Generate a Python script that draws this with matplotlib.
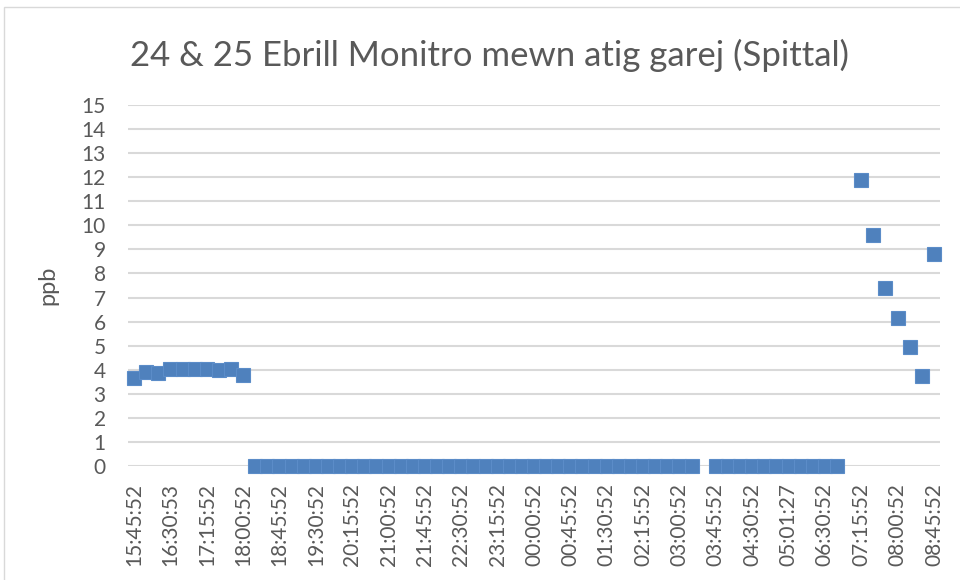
import numpy as np
import matplotlib
matplotlib.use('Agg')
import matplotlib.pyplot as plt
from matplotlib.patches import Rectangle

# Data, one value per 15-min reading, None = no reading
early_vals = [3.65, 3.9, 3.85, 4.05, 4.05, 4.05, 4.05, 4.0, 4.05, 3.8]
night_vals_a = [0.0] * 37
night_vals_b = [0.0] * 11
morning_vals = [11.9, 9.6, 7.4, 6.15, 4.95, 3.75, 8.8]
ppb = early_vals + night_vals_a + [None] + night_vals_b + [None] + morning_vals

tick_labels = ['15:45:52', '16:30:53', '17:15:52', '18:00:52', '18:45:52',
               '19:30:52', '20:15:52', '21:00:52', '21:45:52', '22:30:52',
               '23:15:52', '00:00:52', '00:45:52', '01:30:52', '02:15:52',
               '03:00:52', '03:45:52', '04:30:52', '05:01:27', '06:30:52',
               '07:15:52', '08:00:52', '08:45:52']
label_step = 3

title = '24 & 25 Ebrill Monitro mewn atig garej (Spittal)'

plt.rcParams['font.family'] = ['Lato', 'DejaVu Sans']
text_col = '#595959'
blue = '#4F81BD'

fig = plt.figure(figsize=(9.6, 5.8), dpi=100)
ax = fig.add_axes([128 / 960, 114 / 580, 812 / 960, 361 / 580])

x = np.arange(len(ppb))
y = np.array([np.nan if v is None else v for v in ppb], dtype=float)
ax.plot(x, y, linestyle='none', marker='s', markersize=10,
        color=blue, markeredgecolor='#5B8CC8', markeredgewidth=0.8,
        zorder=3, clip_on=False)

ax.set_xlim(-0.5, len(ppb) - 0.5)
ax.set_ylim(0, 15)
ax.set_yticks(range(0, 16))
ax.set_xticks(range(0, len(ppb), label_step))
ax.set_xticklabels(tick_labels, rotation=90)

ax.grid(axis='y', color='#D9D9D9', linewidth=1.5, zorder=0)
ax.set_axisbelow(True)
for s in ax.spines.values():
    s.set_visible(False)
ax.tick_params(axis='both', length=0, colors=text_col, labelsize=15)
ax.tick_params(axis='y', pad=16)
ax.tick_params(axis='x', pad=12)

ax.set_ylabel('ppb', fontsize=17, color=text_col)
ax.yaxis.set_label_coords(-0.086, 0.5)
fig.text(489 / 960, 1 - 55 / 580, title, ha='center', va='center',
         fontsize=25, color=text_col)

fig.patches.append(Rectangle((4 / 960, -0.05), 1.1, 1.05 - 7 / 580,
                             transform=fig.transFigure, fill=False,
                             edgecolor='#D9D9D9', linewidth=1))

fig.savefig('out.png', dpi=100)
